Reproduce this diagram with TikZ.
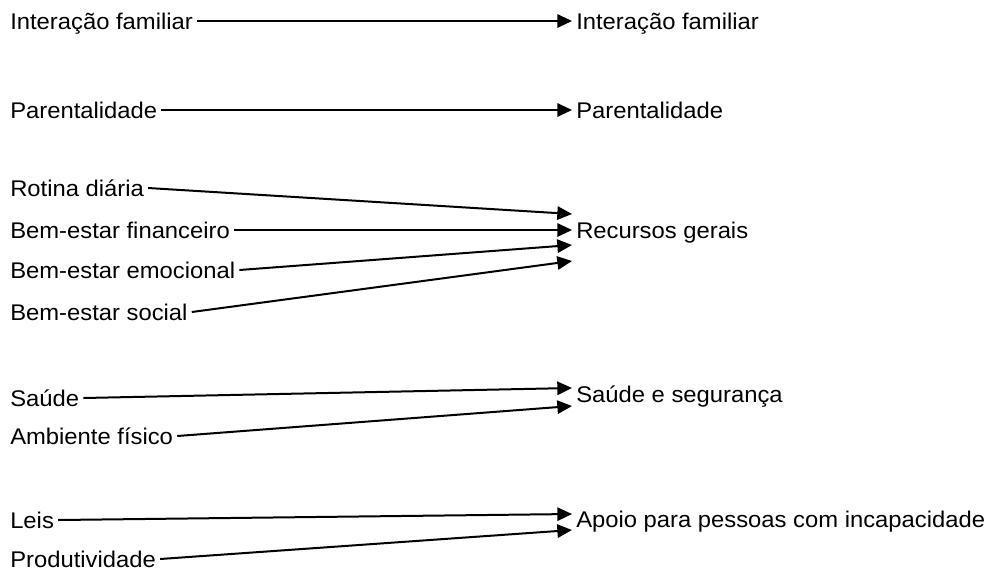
\documentclass[tikz,border=0pt]{standalone}
\usepackage{fontspec}
\setmainfont{Liberation Sans}[FakeStretch=1.05]
\usetikzlibrary{arrows.meta}
\begin{document}
\begin{tikzpicture}[x=0.75pt,y=-0.75pt,
      lbl/.style={anchor=west,inner sep=3pt,font=\fontsize{17}{20}\selectfont,
        text height=12pt,text depth=0pt},
      arr/.style={line width=1.5pt,-{Triangle[length=11pt,width=10pt]}},
    ]
    \useasboundingbox (0,0) rectangle (992,572);
    % left column
    \node[lbl] (ifa) at (6,21) {Interação familiar};
    \node[lbl] (par) at (6,110) {Parentalidade};
    \node[lbl] (rot) at (6,188) {Rotina diária\ };
    \node[lbl] (fin) at (6,230) {Bem-estar financeiro};
    \node[lbl] (emo) at (6,270) {Bem-estar emocional};
    \node[lbl] (soc) at (6,312) {Bem-estar social};
    \node[lbl] (sau) at (6,398) {Saúde};
    \node[lbl] (amb) at (6,436) {Ambiente físico};
    \node[lbl] (lei) at (6,520) {Leis};
    \node[lbl] (pro) at (6,559) {Produtividade};
    % right column
    \node[lbl] (ifb) at (572,21) {Interação familiar};
    \node[lbl] (pab) at (572,110) {Parentalidade};
    \node[lbl] (rec) at (572,230) {Recursos gerais};
    \node[lbl] (seg) at (572,394) {Saúde e segurança};
    \node[lbl] (apo) at (572,519) {Apoio para pessoas com incapacidade};
    % arrow ends
    \coordinate (r1) at (572,214);
    \coordinate (r3) at (572,245);
    \coordinate (r4) at (572,261);
    \coordinate (s1) at (572,388);
    \coordinate (s2) at (572,406);
    \coordinate (a1) at (572,514);
    \coordinate (a2) at (572,530);
    \draw[arr] (ifa.east) -- (ifb.west);
    \draw[arr] (par.east) -- (pab.west);
    \draw[arr] (rot.east) -- (r1);
    \draw[arr] (fin.east) -- (rec.west);
    \draw[arr] (emo.east) -- (r3);
    \draw[arr] (soc.east) -- (r4);
    \draw[arr] (sau.east) -- (s1);
    \draw[arr] (amb.east) -- (s2);
    \draw[arr] (lei.east) -- (a1);
    \draw[arr] (pro.east) -- (a2);
  \end{tikzpicture}
\end{document}
